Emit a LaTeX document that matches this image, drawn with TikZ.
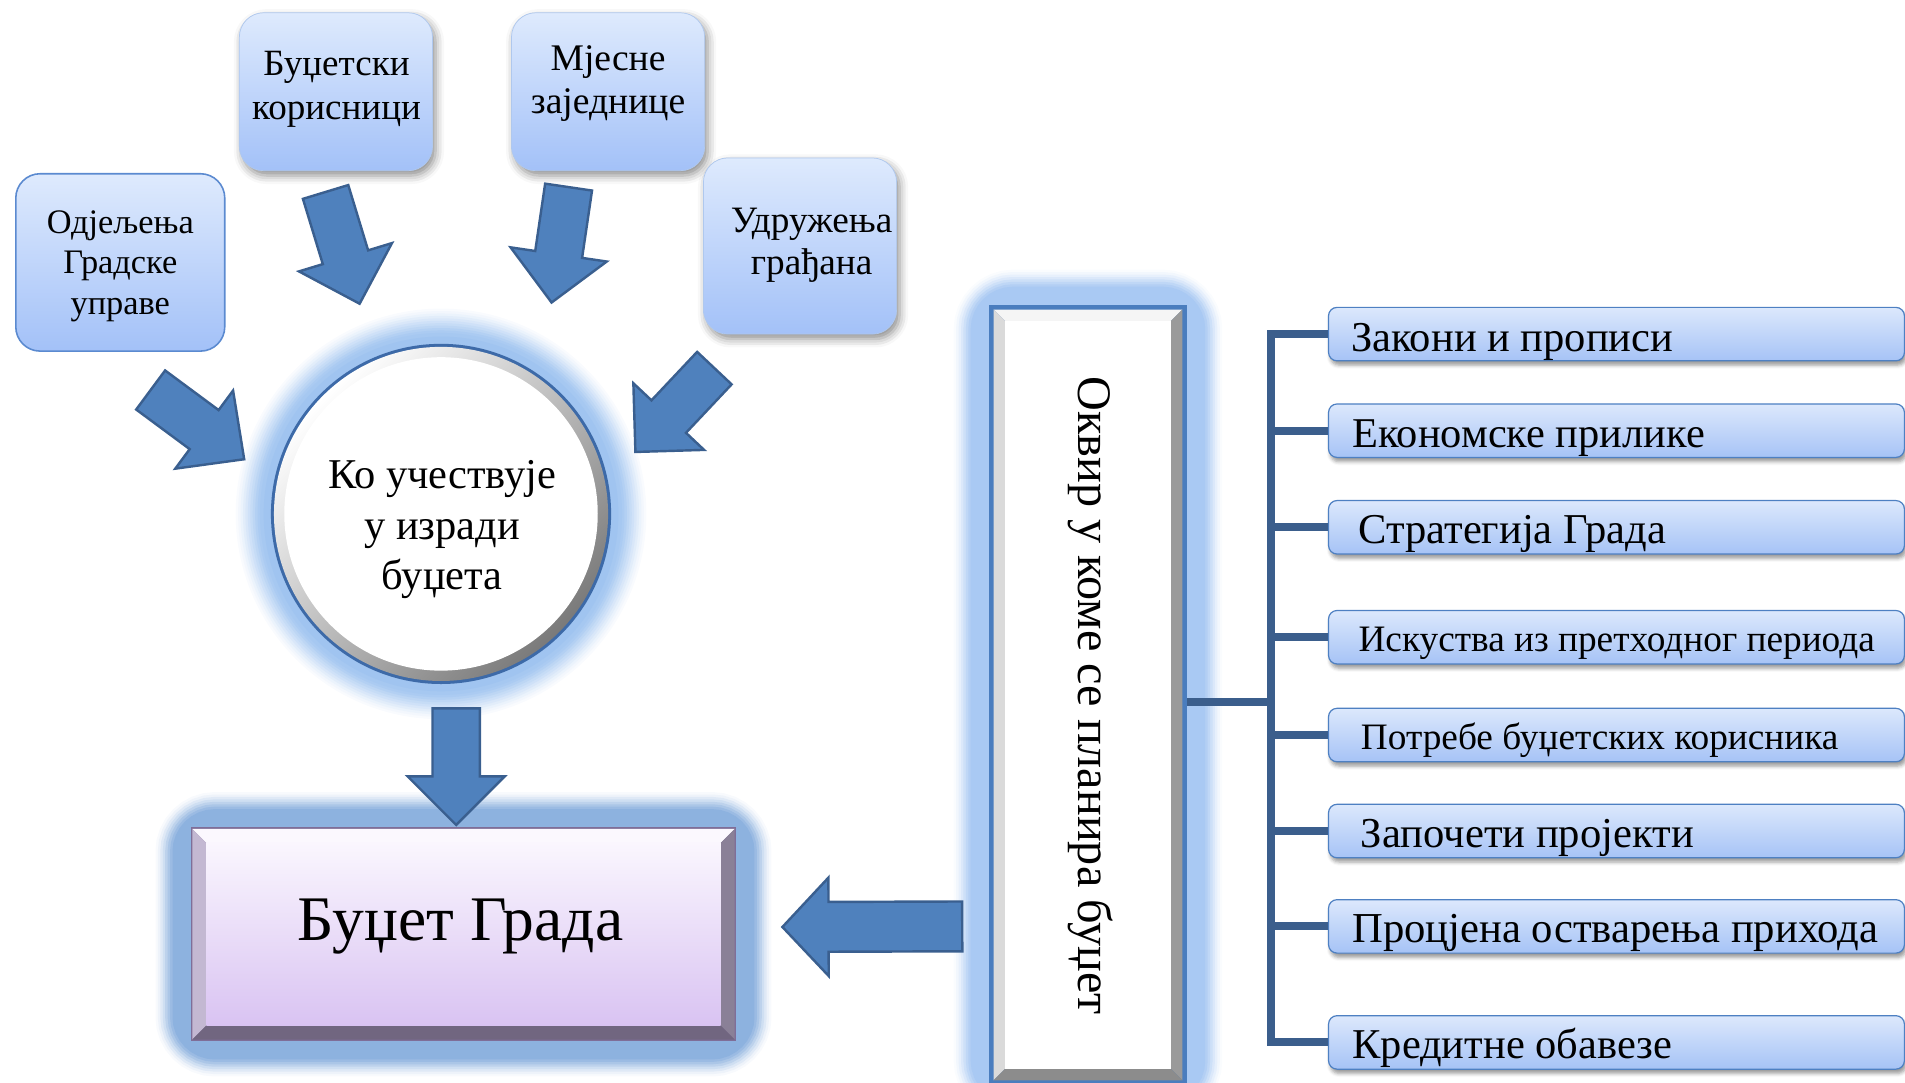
\documentclass[tikz,border=0pt]{standalone}
\usepackage{fontspec}
\setmainfont{Liberation Serif}
\usetikzlibrary{calc,shadows.blur}

\definecolor{boxtop}{HTML}{DEEAFD}
\definecolor{boxbot}{HTML}{A3C1F8}
\definecolor{boxfaint}{HTML}{AFC8EE}
\definecolor{odjline}{HTML}{5B8AD0}
\definecolor{rtop}{HTML}{DCE8FC}
\definecolor{rbot}{HTML}{A6C3F6}
\definecolor{rline}{HTML}{4E80C2}
\definecolor{arrowfill}{HTML}{4F81BD}
\definecolor{arrowdraw}{HTML}{3A5F8F}
\definecolor{treeline}{HTML}{3B5E8C}
\definecolor{circline}{HTML}{3D6AA8}
\definecolor{ringgray}{HTML}{7A7A7A}
\definecolor{glowcirc}{HTML}{A0C4F0}
\definecolor{glowbud}{HTML}{8DB2DF}
\definecolor{glowfrm}{HTML}{A9C9F3}
\definecolor{budline}{HTML}{7F6E98}
\definecolor{bvtop}{HTML}{FBF8FE}
\definecolor{bvleft}{HTML}{C3B8D2}
\definecolor{bvright}{HTML}{8A8097}
\definecolor{bvbot}{HTML}{716680}
\definecolor{budtop}{HTML}{FAF6FE}
\definecolor{budbot}{HTML}{D9C3F2}
\definecolor{framblue}{HTML}{4A7DBE}
\definecolor{frtop}{HTML}{F5F5F5}
\definecolor{frleft}{HTML}{DADADA}
\definecolor{frright}{HTML}{9A9A9A}
\definecolor{frbot}{HTML}{8C8C8C}

\newlength\fitlen
\newcommand\fitfont[3]{%
  \settowidth{\fitlen}{\fontsize{10pt}{12pt}\selectfont #2}%
  \pgfmathsetmacro\fitsize{10*#1/\fitlen}%
  \fontsize{\fitsize pt}{#3pt}\selectfont}

% #1 tail, #2 tip, #3 shaft half width, #4 head half width, #5 head length
\newcommand\blockarrow[5]{%
  \coordinate (ba-h) at ($(#2)!#5!(#1)$);
  \draw[barrow] ($(#1)!#3!90:(#2)$) -- ($(ba-h)!#3!90:(#2)$) -- ($(ba-h)!#4!90:(#2)$)
    -- (#2) -- ($(ba-h)!#4!-90:(#2)$) -- ($(ba-h)!#3!-90:(#2)$) -- ($(#1)!#3!-90:(#2)$) -- cycle;}

% #1 node, #2 inset, #3 bevel, #4 top, #5 left, #6 right, #7 bottom
\newcommand\bevelbox[7]{%
  \coordinate (bvA) at ($(#1.north west)+(#2,#2)$);
  \coordinate (bvB) at ($(#1.south east)+(-#2,-#2)$);
  \coordinate (bva) at ($(bvA)+(#3,#3)$);
  \coordinate (bvb) at ($(bvB)+(-#3,-#3)$);
  \fill[#4] (bvA) -- (bvA -| bvB) -- (bva -| bvb) -- (bva) -- cycle;
  \fill[#5] (bvA) -- (bva) -- (bva |- bvb) -- (bvA |- bvB) -- cycle;
  \fill[#6] (bvA -| bvB) -- (bvB) -- (bvb) -- (bva -| bvb) -- cycle;
  \fill[#7] (bvA |- bvB) -- (bvB) -- (bvb) -- (bva |- bvb) -- cycle;}

\begin{document}
\begin{tikzpicture}[x=1pt,y=-1pt,
  topbox/.style={rectangle, rounded corners=20pt, minimum width=159pt, minimum height=130pt,
    inner sep=0pt, top color=boxtop, bottom color=boxbot},
  topboxsh/.style={topbox, draw=boxfaint, line width=0.6pt,
    blur shadow={shadow xshift=2.5pt, shadow yshift=-4pt, shadow blur radius=7pt, shadow opacity=45}},
  rbox/.style={rectangle, rounded corners=7pt, minimum width=474pt, minimum height=44pt,
    inner sep=0pt, anchor=west, top color=rtop, bottom color=rbot, draw=rline, line width=1pt,
    blur shadow={shadow xshift=1.5pt, shadow yshift=-3.5pt, shadow blur radius=3pt, shadow opacity=40}},
  txt/.style={align=center, inner sep=0pt, text=black},
  rtxt/.style={inner sep=0pt, anchor=base west, text=black},
  barrow/.style={fill=arrowfill, draw=arrowdraw, line width=2pt, line join=miter},
  tree/.style={draw=treeline, line width=6.5pt}]
\useasboundingbox (0,0) rectangle (1568,891);

% ---------- glows (drawn first) ----------
\coordinate (cc) at (363,423);
\coordinate (gradNW) at (157,681);  \coordinate (gradSE) at (606,857);
\coordinate (okNW) at (814,251);    \coordinate (okSE) at (977,893);
\foreach \lw/\pc in {58/6,54/13,50/21,46/30,42/40,38/50,34/60,30/70,26/80,22/88,18/94,12/100}
  \draw[draw=glowcirc!\pc!white, line width=\lw pt] (cc) circle[radius=140];
\foreach \lw/\pc in {58/6,54/15,50/28,46/42,42/58,38/74,34/88,30/100}
  \draw[draw=glowbud!\pc!white, line width=\lw pt, rounded corners=20pt] (gradNW) rectangle (gradSE);
\foreach \lw/\pc in {58/6,54/15,50/28,46/42,42/58,38/74,34/88,30/100}
  \draw[draw=glowfrm!\pc!white, line width=\lw pt, rounded corners=20pt] (okNW) rectangle (okSE);

% ---------- top boxes ----------
\node[topbox, draw=odjline, line width=1.3pt, minimum width=172pt, minimum height=146pt] (odj) at (99,216) {};
\node[topboxsh] (bud) at (276.5,75.5) {};
\node[topboxsh] (mje) at (500.5,75.5) {};
\node[topboxsh, minimum height=145pt] (udr) at (658.5,202.5) {};

\node[txt, font={\fitfont{121}{Одјељења}{33.5}}] (odjt) at (99,219) {Одјељења\\Градске\\управе};
\node[txt, font={\fitfont{139}{корисници}{36}}] (budt) at (277,73.5) {Буџетски\\корисници};
\node[txt, font={\fitfont{127}{заједнице}{35.5}}] (mjet) at (500.5,69) {Мјесне\\заједнице};
\node[txt, font={\fitfont{133}{Удружења}{35}}] (udrt) at (668,202) {Удружења\\грађана};

% ---------- circle ----------
\node[circle, minimum size=280pt, inner sep=0pt, fill=circline] (circ) at (cc) {};
\shade[top color=white, bottom color=ringgray, shading angle=45] (cc) circle[radius=137.5];
\fill[white] (cc) circle[radius=129];
\node[txt, font={\fitfont{188}{Ко учествује}{41.5}}] (circt) at (364,436) {Ко учествује\\у изради\\буџета};

% ---------- budget box ----------
\node[rectangle, minimum width=449pt, minimum height=176pt, inner sep=0pt, fill=budline] (grad) at (381.5,769) {};
\bevelbox{grad}{1.5}{11.5}{bvtop}{bvleft}{bvright}{bvbot}
\shade[top color=budtop, bottom color=budbot] (bva) rectangle (bvb);
\node[txt, font={\fitfont{268}{Буџет Града}{60}}] (gradt) at (379,763) {Буџет Града};

% ---------- frame ----------
\node[rectangle, minimum width=163pt, minimum height=642pt, inner sep=0pt, fill=framblue] (okvir) at (895.5,572) {};
\bevelbox{okvir}{4}{9.5}{frtop}{frleft}{frright}{frbot}
\fill[white] (bva) rectangle (bvb);
\node[txt, rotate=-90, font={\fitfont{525}{Оквир у коме се планира буџет}{50}}] (okvt) at (898,572.5) {Оквир у коме се планира буџет};

% ---------- right boxes ----------
\node[rbox] (r1) at (1093,275) {};
\node[rbox] (r2) at (1093,354.5) {};
\node[rbox] (r3) at (1093,434) {};
\node[rbox] (r4) at (1093,524.5) {};
\node[rbox] (r5) at (1093,605) {};
\node[rbox] (r6) at (1093,684) {};
\node[rbox] (r7) at (1093,762.5) {};
\node[rbox] (r8) at (1093,858) {};

\node[rtxt, font={\fitfont{265}{Закони и прописи}{40}}] (r1t) at ($(r1.west)+(19,14)$) {Закони и прописи};
\node[rtxt, font={\fitfont{290}{Економске прилике}{40}}] (r2t) at ($(r2.west)+(20,13.5)$) {Економске прилике};
\node[rtxt, font={\fitfont{253}{Стратегија Града}{40}}] (r3t) at ($(r3.west)+(25,13.5)$) {Стратегија Града};
\node[rtxt, font={\fitfont{425}{Искуства из претходног периода}{40}}] (r4t) at ($(r4.west)+(25,12)$) {Искуства из претходног периода};
\node[rtxt, font={\fitfont{393}{Потребе буџетских корисника}{40}}] (r5t) at ($(r5.west)+(27,12)$) {Потребе буџетских корисника};
\node[rtxt, font={\fitfont{274}{Започети пројекти}{40}}] (r6t) at ($(r6.west)+(27,13.5)$) {Започети пројекти};
\node[rtxt, font={\fitfont{433}{Процјена остварења прихода}{40}}] (r7t) at ($(r7.west)+(20,13.5)$) {Процјена остварења прихода};
\node[rtxt, font={\fitfont{263}{Кредитне обавезе}{40}}] (r8t) at ($(r8.west)+(20,13.5)$) {Кредитне обавезе};

% ---------- tree connectors ----------
\coordinate (trunk) at (1046,578);
\draw[tree] (okvir.east |- trunk) -- (trunk);
\draw[tree] (r1.west) -- (r1.west -| trunk) -- (r8.west -| trunk) -- (r8.west);
\foreach \n in {r2,r3,r4,r5,r6,r7}
  \draw[tree] (\n.west -| trunk) -- (\n.west);

% ---------- block arrows ----------
\coordinate (a1t) at (124,321);   \coordinate (a1h) at (201,378);
\coordinate (a2t) at (268,158);   \coordinate (a2h) at (296,250);
\coordinate (a3t) at (468,154);   \coordinate (a3h) at (454,249);
\coordinate (a4t) at (588,303);   \coordinate (a4h) at (523,372);
\coordinate (a5t) at (375.5,583); \coordinate (a5h) at (375.5,679);
\coordinate (a6t) at (792,762.5); \coordinate (a6h) at (644,763);
\blockarrow{a1t}{a1h}{20pt}{40pt}{41pt}
\blockarrow{a2t}{a2h}{19.5pt}{40pt}{40pt}
\blockarrow{a3t}{a3h}{19.5pt}{40pt}{40pt}
\blockarrow{a4t}{a4h}{19.5pt}{40pt}{40pt}
\blockarrow{a5t}{a5h}{19.5pt}{40pt}{40pt}
\blockarrow{a6t}{a6h}{20.5pt}{40.5pt}{38pt}
\end{tikzpicture}
\end{document}
